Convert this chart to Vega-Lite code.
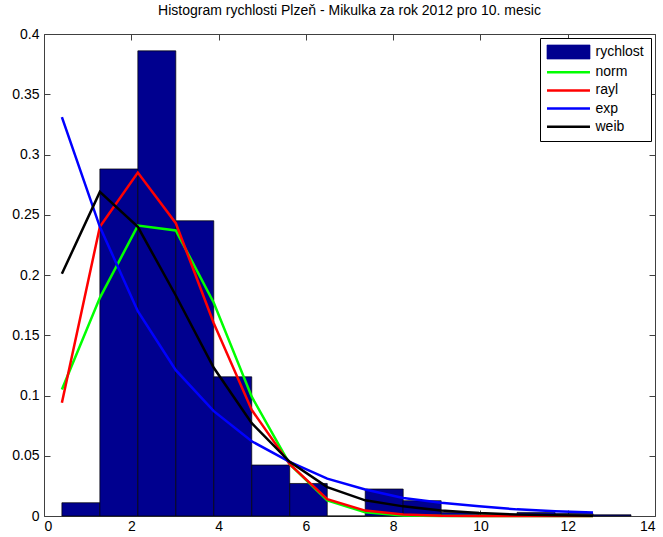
{
  "$schema": "https://vega.github.io/schema/vega-lite/v6.json",
  "width": 611,
  "height": 482,
  "autosize": {"type": "none"},
  "padding": {"left": 44, "top": 34, "right": 8, "bottom": 21},
  "title": {
    "text": "Histogram rychlosti Plzeň - Mikulka za rok 2012 pro 10. mesic",
    "fontSize": 14,
    "fontWeight": "normal",
    "font": "Liberation Sans",
    "color": "black",
    "anchor": "middle",
    "offset": 9
  },
  "config": {
    "view": {"stroke": null},
    "font": "Liberation Sans",
    "axis": {
      "grid": false,
      "title": null,
      "domainColor": "#404040",
      "domainWidth": 1,
      "tickColor": "#404040",
      "tickSize": -6,
      "labelFontSize": 14,
      "labelColor": "black",
      "labelFont": "Liberation Sans"
    },
    "legend": {
      "title": null,
      "orient": "top-right",
      "offset": 4,
      "strokeColor": "black",
      "fillColor": "white",
      "padding": 7,
      "cornerRadius": 0,
      "labelFontSize": 14,
      "labelFont": "Liberation Sans",
      "labelColor": "black",
      "symbolType": "M-3.07,0H3.07",
      "symbolSize": 196,
      "symbolStrokeWidth": 2.5,
      "rowPadding": 4.2,
      "symbolOffset": 14.5,
      "labelOffset": 20
    }
  },
  "datasets": {
    "hist": [
      {"x0": 0.41, "x1": 1.28, "h": 0.011},
      {"x0": 1.28, "x1": 2.15, "h": 0.288},
      {"x0": 2.15, "x1": 3.02, "h": 0.386},
      {"x0": 3.02, "x1": 3.89, "h": 0.245},
      {"x0": 3.89, "x1": 4.76, "h": 0.1155},
      {"x0": 4.76, "x1": 5.63, "h": 0.0423},
      {"x0": 5.63, "x1": 6.49, "h": 0.027},
      {"x0": 6.49, "x1": 7.36, "h": 0.0},
      {"x0": 7.36, "x1": 8.23, "h": 0.0224},
      {"x0": 8.23, "x1": 9.10, "h": 0.0127},
      {"x0": 9.10, "x1": 9.97, "h": 0.003},
      {"x0": 9.97, "x1": 10.84, "h": 0.001},
      {"x0": 10.84, "x1": 11.71, "h": 0.003},
      {"x0": 11.71, "x1": 12.58, "h": 0.002},
      {"x0": 12.58, "x1": 13.45, "h": 0.001}
    ],
    "fits": [
      {"x": 0.41, "p": 0.105, "fit": "norm"},
      {"x": 1.28, "p": 0.181, "fit": "norm"},
      {"x": 2.15, "p": 0.241, "fit": "norm"},
      {"x": 3.02, "p": 0.237, "fit": "norm"},
      {"x": 3.89, "p": 0.177, "fit": "norm"},
      {"x": 4.76, "p": 0.099, "fit": "norm"},
      {"x": 5.63, "p": 0.043, "fit": "norm"},
      {"x": 6.49, "p": 0.013, "fit": "norm"},
      {"x": 7.36, "p": 0.003, "fit": "norm"},
      {"x": 8.23, "p": 0.0005, "fit": "norm"},
      {"x": 9.10, "p": 0.0001, "fit": "norm"},
      {"x": 9.97, "p": 0.0, "fit": "norm"},
      {"x": 10.84, "p": 0.0, "fit": "norm"},
      {"x": 11.71, "p": 0.0, "fit": "norm"},
      {"x": 12.58, "p": 0.0, "fit": "norm"},
      {"x": 0.41, "p": 0.094, "fit": "rayl"},
      {"x": 1.28, "p": 0.240, "fit": "rayl"},
      {"x": 2.15, "p": 0.285, "fit": "rayl"},
      {"x": 3.02, "p": 0.243, "fit": "rayl"},
      {"x": 3.89, "p": 0.160, "fit": "rayl"},
      {"x": 4.76, "p": 0.088, "fit": "rayl"},
      {"x": 5.63, "p": 0.043, "fit": "rayl"},
      {"x": 6.49, "p": 0.014, "fit": "rayl"},
      {"x": 7.36, "p": 0.0045, "fit": "rayl"},
      {"x": 8.23, "p": 0.0012, "fit": "rayl"},
      {"x": 9.10, "p": 0.0003, "fit": "rayl"},
      {"x": 9.97, "p": 0.0001, "fit": "rayl"},
      {"x": 10.84, "p": 0.0, "fit": "rayl"},
      {"x": 11.71, "p": 0.0, "fit": "rayl"},
      {"x": 12.58, "p": 0.0, "fit": "rayl"},
      {"x": 0.41, "p": 0.331, "fit": "exp"},
      {"x": 1.28, "p": 0.240, "fit": "exp"},
      {"x": 2.15, "p": 0.170, "fit": "exp"},
      {"x": 3.02, "p": 0.121, "fit": "exp"},
      {"x": 3.89, "p": 0.087, "fit": "exp"},
      {"x": 4.76, "p": 0.062, "fit": "exp"},
      {"x": 5.63, "p": 0.045, "fit": "exp"},
      {"x": 6.49, "p": 0.031, "fit": "exp"},
      {"x": 7.36, "p": 0.022, "fit": "exp"},
      {"x": 8.23, "p": 0.015, "fit": "exp"},
      {"x": 9.10, "p": 0.011, "fit": "exp"},
      {"x": 9.97, "p": 0.008, "fit": "exp"},
      {"x": 10.84, "p": 0.0055, "fit": "exp"},
      {"x": 11.71, "p": 0.004, "fit": "exp"},
      {"x": 12.58, "p": 0.003, "fit": "exp"},
      {"x": 0.41, "p": 0.201, "fit": "weib"},
      {"x": 1.28, "p": 0.269, "fit": "weib"},
      {"x": 2.15, "p": 0.240, "fit": "weib"},
      {"x": 3.02, "p": 0.183, "fit": "weib"},
      {"x": 3.89, "p": 0.123, "fit": "weib"},
      {"x": 4.76, "p": 0.077, "fit": "weib"},
      {"x": 5.63, "p": 0.045, "fit": "weib"},
      {"x": 6.49, "p": 0.024, "fit": "weib"},
      {"x": 7.36, "p": 0.013, "fit": "weib"},
      {"x": 8.23, "p": 0.008, "fit": "weib"},
      {"x": 9.10, "p": 0.0045, "fit": "weib"},
      {"x": 9.97, "p": 0.0025, "fit": "weib"},
      {"x": 10.84, "p": 0.0012, "fit": "weib"},
      {"x": 11.71, "p": 0.0006, "fit": "weib"},
      {"x": 12.58, "p": 0.0003, "fit": "weib"}
    ]
  },
  "layer": [
    {
      "data": {"name": "hist"},
      "mark": {"type": "rect", "fill": "#00008f", "stroke": "black", "strokeWidth": 0.7},
      "encoding": {
        "x": {
          "field": "x0",
          "type": "quantitative",
          "scale": {"domain": [0, 14], "nice": false, "zero": false},
          "axis": {"orient": "bottom", "values": [0, 2, 4, 6, 8, 10, 12, 14], "labelPadding": 9}
        },
        "x2": {"field": "x1"},
        "y": {
          "field": "h",
          "type": "quantitative",
          "scale": {"domain": [0, 0.4], "nice": false},
          "axis": {
            "orient": "left",
            "values": [0, 0.05, 0.1, 0.15, 0.2, 0.25, 0.3, 0.35, 0.4],
            "format": "~g",
            "labelPadding": 11
          }
        },
        "y2": {"datum": 0}
      }
    },
    {
      "data": {"name": "fits"},
      "mark": {"type": "line", "strokeWidth": 2.5},
      "encoding": {
        "x": {
          "field": "x",
          "type": "quantitative",
          "axis": {"orient": "top", "labels": false, "values": [0, 2, 4, 6, 8, 10, 12, 14]}
        },
        "y": {
          "field": "p",
          "type": "quantitative",
          "axis": {
            "orient": "right",
            "labels": false,
            "values": [0, 0.05, 0.1, 0.15, 0.2, 0.25, 0.3, 0.35, 0.4]
          }
        },
        "color": {
          "field": "fit",
          "type": "nominal",
          "sort": null,
          "scale": {
            "domain": ["rychlost", "norm", "rayl", "exp", "weib"],
            "range": ["#00008f", "#00ff00", "#ff0000", "#0000ff", "#000000"]
          },
          "legend": {
            "encode": {
              "symbols": {
                "update": {
                  "shape": {"signal": "datum.value === 'rychlost' ? 'M-3.07,-1.0H3.07V1.0H-3.07Z' : 'M-3.07,0H3.07'"},
                  "fill": {"signal": "datum.value === 'rychlost' ? '#00008f' : 'transparent'"},
                  "stroke": {"signal": "datum.value === 'rychlost' ? '#000000' : datum.value === 'norm' ? '#00ff00' : datum.value === 'rayl' ? '#ff0000' : datum.value === 'exp' ? '#0000ff' : '#000000'"},
                  "strokeWidth": {"signal": "datum.value === 'rychlost' ? 0.7 : 2.5"}
                }
              }
            }
          }
        }
      }
    }
  ],
  "resolve": {"axis": {"x": "independent", "y": "independent"}}
}
